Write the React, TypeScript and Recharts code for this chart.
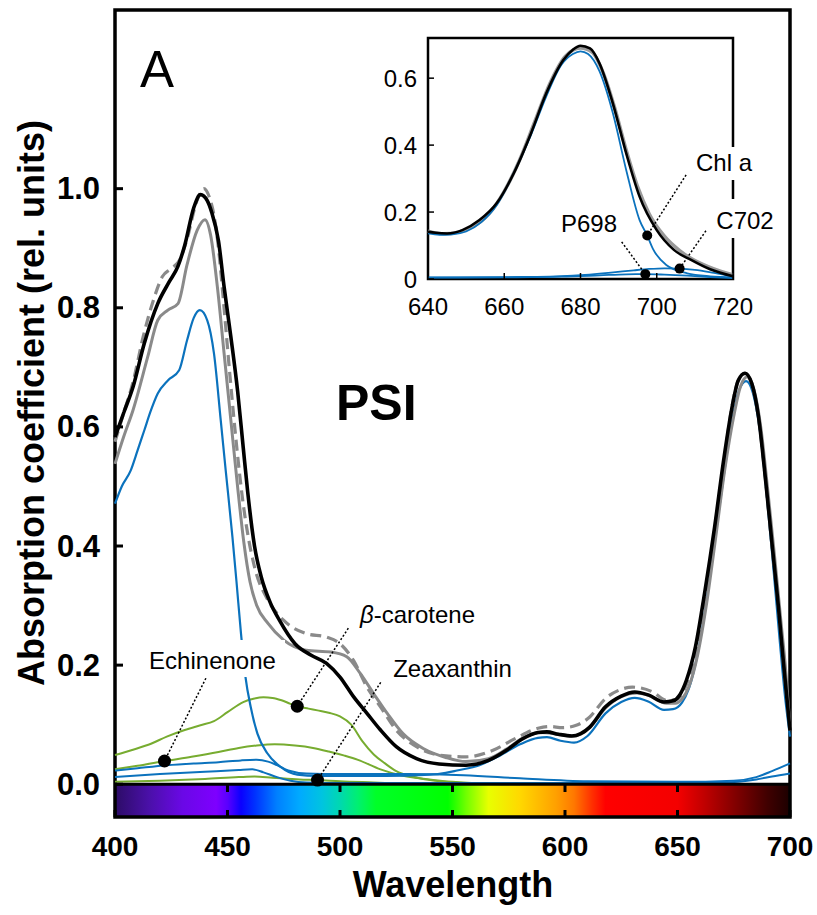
import React from "react";
import {
  LineChart,
  Line,
  XAxis,
  YAxis,
  ReferenceArea,
  ReferenceLine,
  ReferenceDot,
} from "recharts";

type Pt = [number, number];

// ---- main panel: PSI absorption, 400-700 nm (rel. units) ----
const sumSpectrum: Pt[] = [
  [400, 0.583], [404, 0.625], [408, 0.667], [413, 0.74], [419, 0.807], [424, 0.843],
  [428, 0.87], [431, 0.905], [435, 0.968], [438, 0.99], [441, 0.98], [443, 0.96],
  [446, 0.912], [448.5, 0.835], [451.5, 0.751], [454.5, 0.66], [457, 0.565], [459, 0.49],
  [462, 0.4], [465, 0.348], [469, 0.305], [473, 0.276], [480, 0.236], [487, 0.217],
  [494, 0.203], [500, 0.18], [506, 0.147], [512, 0.119], [518, 0.091], [525, 0.063],
  [534, 0.043], [544, 0.034], [556, 0.032], [566, 0.04], [574, 0.057], [581, 0.076],
  [588, 0.087], [592, 0.088], [597, 0.084], [603, 0.081], [607, 0.085], [611, 0.096],
  [618, 0.13], [625, 0.148], [631, 0.155], [637, 0.15], [644, 0.138], [648, 0.14],
  [651, 0.15], [654, 0.175], [658, 0.231], [662, 0.32], [666.5, 0.432], [670.5, 0.544],
  [674, 0.628], [677, 0.678], [680, 0.69], [683, 0.673], [686, 0.617], [689, 0.516],
  [692, 0.404], [695, 0.292], [697, 0.208], [700, 0.09],
];

const graySolid: Pt[] = [
  [400, 0.538], [404, 0.585], [408, 0.628], [414.5, 0.717], [419, 0.779], [423.5, 0.796],
  [428, 0.807], [432, 0.872], [436.5, 0.93], [440, 0.948], [442.5, 0.922], [445.5, 0.835],
  [448.5, 0.723], [451.5, 0.611], [454.5, 0.499], [457.3, 0.405], [460, 0.34], [463, 0.3],
  [468, 0.27], [475, 0.242], [485, 0.225], [496, 0.222], [503, 0.214], [509, 0.186],
  [515, 0.152], [521, 0.119], [528, 0.085], [537, 0.06], [547, 0.045], [556, 0.038],
  [566, 0.043], [574, 0.059], [581, 0.077], [589, 0.087], [597, 0.084], [604, 0.081],
  [611, 0.095], [618, 0.128], [625, 0.147], [632, 0.153], [638, 0.148], [645, 0.136],
  [649, 0.136], [652, 0.143], [655, 0.163], [659, 0.218], [663, 0.305], [667, 0.415],
  [671, 0.528], [675, 0.618], [678, 0.668], [681, 0.684], [684, 0.662], [687, 0.6],
  [690, 0.498], [693, 0.388], [696, 0.272], [698, 0.195], [700, 0.095],
];

const grayDashed: Pt[] = [
  [400, 0.575], [404, 0.625], [408, 0.675], [412.5, 0.751], [417, 0.812], [421, 0.852],
  [425, 0.866], [429, 0.882], [432, 0.915], [436, 0.975], [439.5, 1.0], [442, 0.985],
  [444, 0.955], [446, 0.9], [448, 0.82], [451, 0.69], [454, 0.57], [457, 0.47],
  [459, 0.42], [462, 0.365], [468, 0.309], [475, 0.275], [485, 0.253], [494, 0.247],
  [500, 0.236], [506, 0.208], [512, 0.163], [518, 0.13], [525, 0.091], [534, 0.063],
  [544, 0.049], [556, 0.046], [568, 0.057], [578, 0.077], [588, 0.094], [593, 0.097],
  [599, 0.095], [605, 0.099], [611, 0.113], [618, 0.144], [624, 0.158], [630, 0.163],
  [639, 0.155], [645, 0.141], [649, 0.142], [652, 0.152], [655, 0.178], [659, 0.24],
  [663, 0.33], [667, 0.44], [671, 0.55], [674, 0.63], [677, 0.678], [680, 0.69],
  [683, 0.672], [686, 0.615], [689, 0.515], [692, 0.4], [695, 0.29], [697, 0.205],
  [700, 0.09],
];

const chlA: Pt[] = [
  [400, 0.471], [403, 0.5], [407, 0.527], [410, 0.56], [413, 0.594], [416, 0.628],
  [419, 0.656], [423.5, 0.678], [428.5, 0.695], [432, 0.745], [435, 0.783], [437.7, 0.796],
  [441, 0.779], [444, 0.723], [447, 0.611], [449.2, 0.527], [452.2, 0.415], [454, 0.34],
  [456, 0.253], [458, 0.18], [460.3, 0.13], [463.3, 0.085], [467.7, 0.052], [473.6, 0.029],
  [481, 0.016], [490, 0.014], [500, 0.014], [520, 0.014], [540, 0.016], [547, 0.019],
  [552, 0.023], [562, 0.032], [571, 0.048], [580, 0.067], [588, 0.078], [592, 0.079],
  [598, 0.073], [604, 0.07], [610, 0.081], [618, 0.119], [625, 0.138], [631, 0.145],
  [637, 0.139], [644, 0.125], [648, 0.126], [652, 0.137], [655, 0.16], [659, 0.22],
  [663, 0.31], [667, 0.42], [671, 0.53], [674.5, 0.615], [677.5, 0.663], [680.5, 0.677],
  [683.5, 0.657], [686.5, 0.597], [689.5, 0.492], [692.5, 0.368], [695.5, 0.238], [698, 0.14],
  [700, 0.08],
];

const c702: Pt[] = [
  [400, 0.023], [410, 0.027], [423, 0.032], [435, 0.035], [446, 0.037], [456, 0.04],
  [463, 0.041], [468, 0.038], [472, 0.032], [477, 0.023], [485, 0.018], [500, 0.017],
  [530, 0.017], [555, 0.015], [580, 0.01], [610, 0.005], [650, 0.004], [675, 0.006],
  [685, 0.012], [692, 0.022], [700, 0.035],
];

const p698: Pt[] = [
  [400, 0.012], [420, 0.017], [440, 0.021], [455, 0.024], [461, 0.025], [466, 0.02],
  [472, 0.012], [478, 0.006], [485, 0.003], [500, 0.002], [600, 0.002], [670, 0.003],
  [685, 0.008], [692, 0.013], [700, 0.018],
];

const betaCarotene: Pt[] = [
  [400, 0.049], [408, 0.058], [416, 0.068], [423, 0.08], [431, 0.091], [438, 0.099],
  [444, 0.106], [450, 0.121], [457, 0.138], [462, 0.144], [466, 0.146], [470, 0.145],
  [474, 0.141], [478, 0.135], [481, 0.131], [486, 0.127], [490, 0.124], [495, 0.12],
  [500, 0.114], [505, 0.1], [510, 0.072], [515, 0.05], [520, 0.035], [525, 0.022],
  [532, 0.013], [540, 0.007], [550, 0.003], [565, 0.001], [580, 0],
];

const echinenone: Pt[] = [
  [400, 0.025], [410, 0.031], [422, 0.039], [434, 0.046], [446, 0.054], [455, 0.061],
  [463, 0.065], [471, 0.067], [480, 0.065], [488, 0.061], [495, 0.055], [502, 0.048],
  [508, 0.041], [518, 0.025], [527, 0.015], [538, 0.009], [550, 0.004], [565, 0.001],
  [580, 0],
];

const zeaxanthin: Pt[] = [
  [400, 0.004], [420, 0.006], [440, 0.009], [455, 0.012], [462, 0.013], [470, 0.011],
  [482, 0.008], [490, 0.007], [500, 0.005], [515, 0.003], [530, 0.001], [545, 0],
];

const xTicks = [400, 450, 500, 550, 600, 650, 700];
const yTicks = [0, 0.2, 0.4, 0.6, 0.8, 1.0];
const barTicks = [450, 500, 550, 600, 650];

// ---- inset: red band, 640-720 nm ----
const insetSum: Pt[] = [
  [640, 0.141], [642, 0.138], [645, 0.136], [649, 0.146], [653.5, 0.176], [658, 0.226],
  [662.5, 0.316], [667, 0.435], [671, 0.554], [675.5, 0.654], [678, 0.685], [680, 0.697],
  [682.5, 0.689], [685, 0.644], [688.5, 0.524], [692, 0.375], [695.5, 0.246], [700, 0.146],
  [704.5, 0.087], [709, 0.057], [714, 0.029], [720, 0.008],
];

const insetGray: Pt[] = [
  [640, 0.143], [644, 0.135], [648, 0.14], [652, 0.158], [656, 0.195], [660, 0.262],
  [664, 0.355], [668, 0.47], [672, 0.585], [676, 0.665], [680, 0.69], [683, 0.678],
  [686, 0.615], [689, 0.51], [692, 0.385], [695, 0.275], [698, 0.195], [702, 0.128],
  [706, 0.085], [710, 0.055], [715, 0.03], [720, 0.012],
];

const insetChlA: Pt[] = [
  [640, 0.136], [643, 0.132], [646, 0.133], [650, 0.142], [654, 0.17], [658, 0.22],
  [662, 0.305], [667, 0.43], [671, 0.545], [675, 0.64], [678, 0.672], [680, 0.68],
  [682, 0.672], [685, 0.62], [688.5, 0.495], [692, 0.325], [695.5, 0.176], [697.5, 0.13],
  [699, 0.09], [702.5, 0.042], [708, 0.017], [714, 0.008], [720, 0.005],
];

const insetP698: Pt[] = [
  [640, 0.004], [660, 0.005], [675, 0.007], [685, 0.011], [692, 0.014], [697, 0.0145],
  [702, 0.013], [708, 0.01], [714, 0.006], [720, 0.003],
];

const insetC702: Pt[] = [
  [640, 0.005], [665, 0.006], [678, 0.01], [688, 0.019], [694, 0.026], [698, 0.03],
  [702, 0.032], [706, 0.031], [710, 0.027], [715, 0.018], [720, 0.008],
];

const insetXTicks = [640, 660, 680, 700, 720];
const insetYTicks = [0, 0.2, 0.4, 0.6];

// colour bar under the main plot
const spectrumWl = [400, 415, 430, 445, 450, 456, 462, 472, 482, 492, 500, 508, 516, 548, 556, 566, 580, 596, 604, 612, 618, 650, 662, 676, 690, 700];
const spectrumColor = [
  "#2c0c66", "#4a10a8", "#6a08e6", "#7e00ff", "#5a00ff", "#0a00ff", "#0030ff", "#0080ff",
  "#00aaff", "#00c4e0", "#00d8b0", "#00f070", "#00ff28", "#00ff00", "#70ff00", "#e8ff00",
  "#ffd800", "#ffa000", "#ff7800", "#ff3000", "#ff0000", "#f40000", "#c00000", "#800000",
  "#400000", "#1c0000",
];

const FONT = "'Liberation Sans', Arial, Helvetica, sans-serif";
const BLUE = "#0b72bd";
const GREEN = "#77ac30";
const GRAY = "#8a8a8a";

const rows = (pts: Pt[]) => pts.map(([wl, v]) => ({ wl, v }));
const valueAt = (pts: Pt[], wl: number) => (pts.find((p) => p[0] === wl) as Pt)[1];

const textStyle = (size: number, bold: boolean) => ({
  fontSize: size,
  fontWeight: bold ? 700 : 400,
  fontFamily: FONT,
  fill: "#000",
});

// inward ticks: recharts hands us the axis position (tickSize/tickMargin = 0)
function leftTick(len: number, lw: number, gap: number, size: number, bold: boolean, fmt: (v: number) => string) {
  return (p: any) => (
    <g>
      <line x1={p.x} y1={p.y} x2={p.x + len} y2={p.y} stroke="#000" strokeWidth={lw} />
      <text x={p.x - gap} y={p.y} textAnchor="end" dominantBaseline="central" {...textStyle(size, bold)}>
        {fmt(p.payload.value)}
      </text>
    </g>
  );
}

function bottomTick(len: number, lw: number, gap: number, size: number, bold: boolean) {
  return (p: any) => (
    <g>
      <line x1={p.x} y1={p.y} x2={p.x} y2={p.y - len} stroke="#000" strokeWidth={lw} />
      <text x={p.x} y={p.y + gap} textAnchor="middle" dominantBaseline="central" {...textStyle(size, bold)}>
        {String(p.payload.value)}
      </text>
    </g>
  );
}

const rightTick = (len: number, lw: number) => (p: any) => (
  <line x1={p.x} y1={p.y} x2={p.x - len} y2={p.y} stroke="#000" strokeWidth={lw} />
);
const topTick = (len: number, lw: number) => (p: any) => (
  <line x1={p.x} y1={p.y} x2={p.x} y2={p.y + len} stroke="#000" strokeWidth={lw} />
);

const mainSeries = [
  { key: "zea", pts: zeaxanthin, color: GREEN, w: 2 },
  { key: "ech", pts: echinenone, color: GREEN, w: 2 },
  { key: "bcar", pts: betaCarotene, color: GREEN, w: 2 },
  { key: "p698", pts: p698, color: BLUE, w: 2 },
  { key: "c702", pts: c702, color: BLUE, w: 2 },
  { key: "chla", pts: chlA, color: BLUE, w: 2.2 },
  { key: "gdash", pts: grayDashed, color: GRAY, w: 3.2, dash: "11 6" },
  { key: "gray", pts: graySolid, color: GRAY, w: 3 },
  { key: "sum", pts: sumSpectrum, color: "#000", w: 3.6 },
];

const insetSeries = [
  { key: "p698", pts: insetP698, color: BLUE, w: 1.8 },
  { key: "c702", pts: insetC702, color: BLUE, w: 1.8 },
  { key: "gray", pts: insetGray, color: "#9a9a9a", w: 3.5 },
  { key: "chla", pts: insetChlA, color: BLUE, w: 1.8 },
  { key: "sum", pts: insetSum, color: "#000", w: 2.6 },
];

// leader start points are annotation anchors (data units)
const mainNotes = [
  { key: "ech", pts: echinenone, wl: 422, from: { x: 440.4, y: 0.178 } },
  { key: "bcar", pts: betaCarotene, wl: 481, from: { x: 503.7, y: 0.262 } },
  { key: "zea", pts: zeaxanthin, wl: 490, from: { x: 518.1, y: 0.171 } },
];
const insetNotes = [
  { key: "chla", pts: insetChlA, wl: 697.5, from: { x: 707.7, y: 0.311 } },
  { key: "p698", pts: insetP698, wl: 697, from: { x: 690.8, y: 0.111 } },
  { key: "c702", pts: insetC702, wl: 706, from: { x: 712.9, y: 0.144 } },
];

const labelBoxes = [
  { text: "Echinenone", cx: 212.5, cy: 660, x: 141, y: 640, w: 144, h: 37 },
  { text: "Zeaxanthin", cx: 452.5, cy: 668, x: 386, y: 652, w: 133, h: 32 },
  { text: "Chl a", cx: 724, cy: 162, x: 691, y: 147, w: 66, h: 33 },
  { text: "P698", cx: 589, cy: 223, x: 556, y: 208, w: 66, h: 30 },
  { text: "C702", cx: 745, cy: 220, x: 712, y: 199, w: 66, h: 39 },
];

export default function App() {
  return (
    <div style={{ position: "absolute", left: 0, top: 0, width: 817, height: 915, background: "#fff", fontFamily: FONT }}>
      <LineChart width={817} height={915} margin={{ top: 10, right: 27, bottom: 58, left: 55 }}>
        <defs>
          <linearGradient id="spectrum" x1="0" y1="0" x2="1" y2="0">
            {spectrumWl.map((wl, i) => (
              <stop key={wl} offset={(wl - 400) / 300} stopColor={spectrumColor[i]} />
            ))}
          </linearGradient>
        </defs>
        <XAxis
          dataKey="wl"
          type="number"
          domain={[400, 700]}
          ticks={xTicks}
          interval={0}
          height={40}
          tickSize={0}
          tickMargin={0}
          tickLine={false}
          axisLine={false}
          tick={bottomTick(7, 3, 29, 28, true)}
        />
        <YAxis
          type="number"
          domain={[-0.055, 1.3]}
          ticks={yTicks}
          interval={0}
          width={60}
          tickSize={0}
          tickMargin={0}
          tickLine={false}
          axisLine={false}
          tick={leftTick(8, 3, 15, 31, true, (v) => v.toFixed(1))}
        />
        <YAxis
          yAxisId="r"
          orientation="right"
          type="number"
          domain={[-0.055, 1.3]}
          ticks={yTicks}
          interval={0}
          width={0}
          tickSize={0}
          tickMargin={0}
          tickLine={false}
          axisLine={false}
          tick={rightTick(8, 3)}
        />
        <ReferenceArea x1={400} x2={700} y1={-0.055} y2={0} fill="url(#spectrum)" fillOpacity={1} stroke="none" />
        {mainSeries.map((s) => (
          <Line
            key={s.key}
            data={rows(s.pts)}
            dataKey="v"
            type="monotone"
            stroke={s.color}
            strokeWidth={s.w}
            strokeDasharray={s.dash}
            dot={false}
            activeDot={false}
            isAnimationActive={false}
          />
        ))}
        <ReferenceLine y={0} stroke="#000" strokeWidth={3} />
        {barTicks.map((wl) => (
          <ReferenceLine
            key={`bt${wl}`}
            segment={[{ x: wl, y: 0 }, { x: wl, y: -0.013 }]}
            stroke="#000"
            strokeWidth={3}
          />
        ))}
        {mainNotes.map((n) => (
          <ReferenceLine
            key={`ml${n.key}`}
            segment={[n.from, { x: n.wl, y: valueAt(n.pts, n.wl) }]}
            stroke="#000"
            strokeWidth={1.5}
            strokeDasharray="2 2"
          />
        ))}
        {mainNotes.map((n) => (
          <ReferenceDot key={`md${n.key}`} x={n.wl} y={valueAt(n.pts, n.wl)} r={6.5} fill="#000" stroke="none" />
        ))}
        <ReferenceArea x1={400} x2={700} y1={-0.055} y2={1.3} fill="none" stroke="#000" strokeWidth={3.5} />
      </LineChart>

      <div style={{ position: "absolute", left: 340, top: 30 }}>
        <LineChart width={440} height={300} margin={{ top: 8, right: 47, bottom: 21, left: 48 }}>
          <XAxis
            dataKey="wl"
            type="number"
            domain={[640, 720]}
            ticks={insetXTicks}
            interval={0}
            height={30}
            tickSize={0}
            tickMargin={0}
            tickLine={false}
            axisLine={false}
            tick={bottomTick(6, 1.5, 27, 24, false)}
          />
          <XAxis
            xAxisId="t"
            orientation="top"
            dataKey="wl"
            type="number"
            domain={[640, 720]}
            ticks={insetXTicks}
            interval={0}
            height={0}
            tickSize={0}
            tickMargin={0}
            tickLine={false}
            axisLine={false}
            tick={topTick(6, 1.5)}
          />
          <YAxis
            type="number"
            domain={[0, 0.72]}
            ticks={insetYTicks}
            interval={0}
            width={40}
            tickSize={0}
            tickMargin={0}
            tickLine={false}
            axisLine={false}
            tick={leftTick(6, 1.5, 11, 24, false, (v) => (v === 0 ? "0" : v.toFixed(1)))}
          />
          <YAxis
            yAxisId="r"
            orientation="right"
            type="number"
            domain={[0, 0.72]}
            ticks={insetYTicks}
            interval={0}
            width={0}
            tickSize={0}
            tickMargin={0}
            tickLine={false}
            axisLine={false}
            tick={rightTick(6, 1.5)}
          />
          {insetSeries.map((s) => (
            <Line
              key={s.key}
              data={rows(s.pts)}
              dataKey="v"
              type="monotone"
              stroke={s.color}
              strokeWidth={s.w}
              dot={false}
              activeDot={false}
              isAnimationActive={false}
            />
          ))}
          {insetNotes.map((n) => (
            <ReferenceLine
              key={`il${n.key}`}
              segment={[n.from, { x: n.wl, y: valueAt(n.pts, n.wl) }]}
              stroke="#000"
              strokeWidth={1.5}
              strokeDasharray="2 2"
            />
          ))}
          {insetNotes.map((n) => (
            <ReferenceDot key={`id${n.key}`} x={n.wl} y={valueAt(n.pts, n.wl)} r={5} fill="#000" stroke="none" />
          ))}
          <ReferenceArea x1={640} x2={720} y1={0} y2={0.72} fill="none" stroke="#000" strokeWidth={2.5} />
        </LineChart>
      </div>

      <svg width={817} height={915} style={{ position: "absolute", left: 0, top: 0, pointerEvents: "none" }}>
        <text x={140} y={87} {...textStyle(51, false)}>A</text>
        <text x={336} y={420} {...textStyle(50, true)}>PSI</text>
        <text transform="translate(44,403) rotate(-90)" textAnchor="middle" {...textStyle(36, true)}>
          Absorption coefficient (rel. units)
        </text>
        <text x={453} y={897} textAnchor="middle" {...textStyle(36, true)}>Wavelength</text>
        <rect x={352} y={598} width={131} height={32} fill="#fff" />
        <text x={417.5} y={614} textAnchor="middle" dominantBaseline="central" {...textStyle(24, false)}>
          <tspan fontStyle="italic">β</tspan>-carotene
        </text>
        {labelBoxes.map((b) => (
          <g key={b.text}>
            <rect x={b.x} y={b.y} width={b.w} height={b.h} fill="#fff" />
            <text x={b.cx} y={b.cy} textAnchor="middle" dominantBaseline="central" {...textStyle(24, false)}>
              {b.text}
            </text>
          </g>
        ))}
      </svg>
    </div>
  );
}
